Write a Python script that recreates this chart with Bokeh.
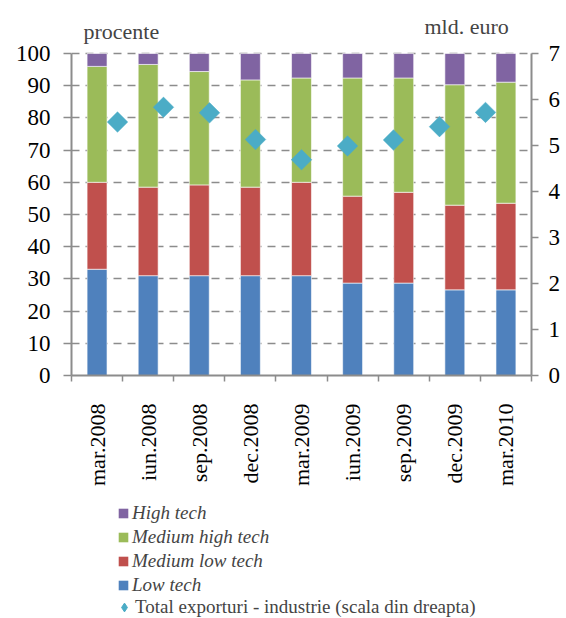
from math import pi
from bokeh.plotting import figure
from bokeh.layouts import column
from bokeh.models import (Range1d, LinearAxis, FixedTicker, ColumnDataSource,
                          Legend, LegendItem, Label, Grid)
from bokeh.embed import file_html
from bokeh.resources import INLINE

categories = ["mar.2008", "iun.2008", "sep.2008", "dec.2008", "mar.2009",
              "iun.2009", "sep.2009", "dec.2009", "mar.2010"]
low_tech = [33.0, 31.0, 31.0, 31.0, 31.0, 28.7, 28.7, 26.6, 26.6]
medium_low_tech = [27.0, 27.5, 28.2, 27.5, 29.0, 27.0, 28.2, 26.3, 26.9]
medium_high_tech = [36.0, 38.1, 35.2, 33.3, 32.4, 36.7, 35.5, 37.4, 37.6]
high_tech = [4.0, 3.4, 5.6, 8.2, 7.6, 7.6, 7.6, 9.7, 8.9]
total_exports = [5.51, 5.83, 5.71, 5.13, 4.69, 4.99, 5.12, 5.41, 5.72]
left_ticks = [0, 10, 20, 30, 40, 50, 60, 70, 80, 90, 100]
right_ticks = [0, 1, 2, 3, 4, 5, 6, 7]
series_labels = ["High tech", "Medium high tech", "Medium low tech", "Low tech"]
total_label = "Total exporturi - industrie (scala din dreapta)"

FONT = "Liberation Serif"
GRAY = "#8C8C8C"
BLUE, RED, GREEN, PURPLE, TEAL = "#4F81BD", "#C0504D", "#9BBB59", "#8064A2", "#4BACC6"
NAN = float("nan")

# layout constants (pixels)
W = 563
FRAME_H = 375      # frame spans from canvas top to the x axis
DATA_H = 322       # pixels used by 0..100 on the left axis
BOTTOM = 125
LEG_H = 118

n = len(categories)
centers = [i + 0.5 for i in range(n)]
bounds = list(range(n + 1))
y_top = 100 * FRAME_H / DATA_H
r_top = 7 * FRAME_H / DATA_H

p = figure(width=W, height=FRAME_H + BOTTOM, x_range=Range1d(0, n),
           y_range=Range1d(0, y_top),
           output_backend="svg", toolbar_location=None,
           x_axis_type=None, y_axis_type=None,
           min_border_left=71, min_border_right=32, min_border_top=0,
           min_border_bottom=BOTTOM)
p.outline_line_color = None
p.extra_x_ranges = {"sec": Range1d(0, n + 1)}
p.extra_y_ranges = {"right": Range1d(0, r_top)}

grid = Grid(dimension=1, ticker=FixedTicker(ticks=left_ticks), grid_line_color=GRAY,
            grid_line_width=1.5, grid_line_dash="8 6")
p.add_layout(grid)

src = ColumnDataSource(dict(x=centers, low=low_tech, mlow=medium_low_tech,
                            mhigh=medium_high_tech, high=high_tech))
rends = p.vbar_stack(["low", "mlow", "mhigh", "high"], x="x", width=0.39,
                     color=[BLUE, RED, GREEN, PURPLE], line_color="white",
                     line_width=0.6, source=src)

p.scatter(x=[i + 1 for i in range(n)], y=total_exports, x_range_name="sec",
          y_range_name="right", marker="square", angle=pi / 4, size=14.5,
          fill_color=TEAL, line_color=TEAL, line_width=0.5)

xaxis = LinearAxis(ticker=FixedTicker(ticks=centers, minor_ticks=bounds),
                   major_label_overrides={c: lab for c, lab in zip(centers, categories)},
                   major_tick_line_color=None, major_tick_out=0, major_tick_in=0,
                   minor_tick_out=6, minor_tick_in=0, minor_tick_line_color=GRAY,
                   minor_tick_line_width=1.5, axis_line_color=GRAY, axis_line_width=2,
                   major_label_orientation=pi / 2, major_label_standoff=22,
                   major_label_text_font=FONT, major_label_text_font_size="22px",
                   major_label_text_color="black")
p.add_layout(xaxis, "below")

yaxis = LinearAxis(ticker=FixedTicker(ticks=left_ticks), bounds=(0, 100),
                   major_tick_out=8, major_tick_in=0,
                   minor_tick_line_color=None, major_tick_line_color=GRAY,
                   major_tick_line_width=1.5, axis_line_color=GRAY, axis_line_width=2,
                   major_label_standoff=13, major_label_text_font=FONT,
                   major_label_text_font_size="23px", major_label_text_color="black")
p.add_layout(yaxis, "left")

raxis = LinearAxis(y_range_name="right", ticker=FixedTicker(ticks=right_ticks),
                   bounds=(0, 7),
                   major_tick_out=7, major_tick_in=0, minor_tick_line_color=None,
                   major_tick_line_color=GRAY, major_tick_line_width=1.5,
                   axis_line_color=GRAY, axis_line_width=2, major_label_standoff=10,
                   major_label_text_font=FONT, major_label_text_font_size="23px",
                   major_label_text_color="black")
p.add_layout(raxis, "right")

p.add_layout(Label(x=12, y=344, x_units="screen", y_units="screen", text="procente",
                   text_font=FONT, text_font_size="22px", text_baseline="alphabetic"))
p.add_layout(Label(x=353, y=349, x_units="screen", y_units="screen", text="mld. euro",
                   text_font=FONT, text_font_size="22px", text_baseline="alphabetic"))

# legend figure
q = figure(width=W, height=LEG_H, x_range=Range1d(0, 1), y_range=Range1d(0, 1),
           output_backend="svg", toolbar_location=None,
           x_axis_type=None, y_axis_type=None, min_border=0)
q.outline_line_color = None
q.xgrid.visible = False
q.ygrid.visible = False
leg_colors = [PURPLE, GREEN, RED, BLUE]
dummy = [q.vbar(x=[NAN], top=[NAN], width=0.1, fill_color=c, line_color=None)
         for c in leg_colors]
d_tot = q.scatter(x=[NAN], y=[NAN], marker="diamond", size=7,
                  fill_color=TEAL, line_color=TEAL)

legA = Legend(items=[LegendItem(label=lab, renderers=[r])
                     for lab, r in zip(series_labels, dummy)],
              location=(46, 22), orientation="vertical",
              label_text_font=FONT, label_text_font_size="19px",
              label_text_font_style="italic", glyph_width=12, glyph_height=12,
              label_standoff=3, label_height=20, spacing=2, padding=0, margin=0,
              border_line_color=None, background_fill_alpha=0)
legB = Legend(items=[LegendItem(label=total_label, renderers=[d_tot])],
              location=(42, 0), orientation="vertical",
              label_text_font=FONT, label_text_font_size="19px",
              glyph_width=22, glyph_height=22, label_standoff=0, label_height=20,
              spacing=2, padding=0, margin=0,
              border_line_color=None, background_fill_alpha=0)
q.add_layout(legA)
q.add_layout(legB)

layout = column(p, q, spacing=0)
open("out.html", "w").write(file_html(layout, INLINE))
